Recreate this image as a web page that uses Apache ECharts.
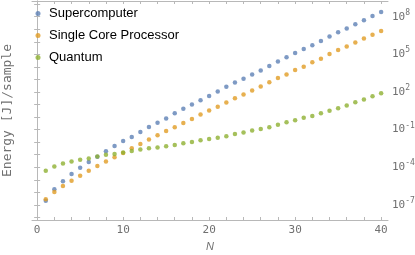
<!DOCTYPE html>
<html>
<head>
<meta charset="utf-8">
<script src="https://cdn.jsdelivr.net/npm/echarts@6/dist/echarts.min.js"></script>
<style>html,body{margin:0;padding:0;background:#fff}#c{width:415px;height:255px}</style>
</head>
<body>
<div id="c"></div>
<script>
const N = [];
for (let i = 1; i <= 40; i++) N.push(i);
const supercomputer = [2.14e-7,1.74e-6,7.6e-6,2.9e-5,9.1e-5,2.6e-4,6.8e-4,1.9e-3,4.9e-3,1.23e-2,
  2.6e-2,6.6e-2,0.166,0.355,0.776,2.04,4.57,10,21.9,47.9,
  107,257,575,1120,2510,5250,12000,26900,58900,1.29e5,
  2.63e5,5.37e5,1.17e6,2.63e6,5.75e6,1.12e7,2.51e7,5.25e7,1.15e8,2.34e8];
const singleCore = [2.8e-7,1.07e-6,3.2e-6,8.5e-6,2.1e-5,5.2e-5,1.29e-4,2.9e-4,6.3e-4,1.38e-3,
  3.3e-3,7.2e-3,1.62e-2,3.5e-2,7.8e-2,0.158,0.331,0.692,1.62,3.39,
  6.61,14.5,31.6,63.1,129,269,589,1320,2510,5620,
  10200,22900,44700,1.05e5,2.19e5,4.17e5,8.7e5,1.82e6,3.72e6,7.4e6];
const quantum = [5.2e-5,1.17e-4,2.0e-4,2.9e-4,3.9e-4,5.0e-4,7.2e-4,9.8e-4,1.17e-3,1.51e-3,
  2.0e-3,2.57e-3,3.3e-3,3.7e-3,4.7e-3,6.0e-3,8.1e-3,1.05e-2,1.41e-2,1.78e-2,
  2.29e-2,2.95e-2,4.5e-2,5.8e-2,8.7e-2,0.112,0.158,0.245,0.380,0.550,
  0.891,1.20,2.04,3.16,5.13,8.32,15.5,25.1,45.7,79.4];
const seriesNames = ['Supercomputer','Single Core Processor','Quantum'];
const xTickLabels = [0,10,20,30,40];
const xTicks = [0,2,4,6,8,10,12,14,16,18,20,22,24,26,28,30,32,34,36,38,40];
const yTickLabels = [1e-7,1e-4,1e-1,1e2,1e5,1e8];
const yTicks = [1e-8,1e-7,1e-6,1e-5,1e-4,1e-3,1e-2,1e-1,1,1e1,1e2,1e3,1e4,1e5,1e6,1e7,1e8,1e9];

const colors = ['#5E81B5','#E19C24','#8FB032'];
const axisColor = '#b8b8b8';
const labelColor = '#707070';
const mono = 'DejaVu Sans Mono';
const yMin = Math.pow(10,-8.2), yMax = Math.pow(10,9.25);

function pairs(arr){ return arr.map((v,i)=>[N[i], v]); }

const baseX = {
  type:'value', min:-0.6, max:40.8,
  axisLine:{show:true, lineStyle:{color:axisColor, width:1}},
  splitLine:{show:false},
};
const baseY = {
  type:'log', logBase:10, min:yMin, max:yMax,
  axisLine:{show:true, lineStyle:{color:axisColor, width:1}},
  splitLine:{show:false}, minorTick:{show:false}
};
const chart = echarts.init(document.getElementById('c'), null, {renderer:'canvas'});
chart.setOption({
  animation:false,
  backgroundColor:'#fff',
  color: colors,
  grid:{left:32, right:27, top:1, bottom:35, containLabel:false, outerBoundsMode:'none'},
  legend:{
    orient:'vertical', left:35.5, top:7, padding:0, itemGap:9,
    itemWidth:12, itemHeight:5, icon:'circle',
    textStyle:{fontFamily:'Liberation Sans', fontSize:13, color:'#000'},
    data: seriesNames
  },
  xAxis:[
    Object.assign({}, baseX, {
      position:'bottom',
      axisTick:{show:true, inside:true, length:3, customValues:xTicks, lineStyle:{color:axisColor}},
      axisLabel:{show:true, customValues:xTickLabels, color:labelColor, fontFamily:mono, fontSize:11, margin:5},
      name:'N', nameLocation:'middle', nameGap:21,
      nameTextStyle:{fontFamily:'Liberation Sans', fontStyle:'italic', fontSize:11, color:labelColor}
    }),
    Object.assign({}, baseX, {
      position:'top',
      axisTick:{show:true, inside:true, length:3, customValues:xTicks, lineStyle:{color:axisColor}},
      axisLabel:{show:false}
    })
  ],
  yAxis:[
    Object.assign({}, baseY, {
      position:'right',
      axisTick:{show:true, inside:true, length:3, customValues:yTicks, lineStyle:{color:axisColor}},
      axisLabel:{show:true, customValues:yTickLabels, margin:4,
        formatter:function(v){ const e = Math.round(Math.log10(v)); return '{b|10}{s|' + e + '}'; },
        rich:{
          b:{fontFamily:mono, fontSize:11, color:labelColor},
          s:{fontFamily:mono, fontSize:8, color:labelColor, verticalAlign:'top', padding:[0,0,8,0]}
        }
      }
    }),
    Object.assign({}, baseY, {
      position:'left',
      axisTick:{show:true, inside:true, length:3, customValues:yTicks, lineStyle:{color:axisColor}},
      axisLabel:{show:false},
      name:'Energy [J]/sample', nameLocation:'middle', nameGap:17.5,
      nameTextStyle:{fontFamily:mono, fontSize:13, color:labelColor}
    })
  ],
  series:[
    {name:seriesNames[0], type:'scatter', xAxisIndex:0, yAxisIndex:0, symbolSize:4.5, data:pairs(supercomputer)},
    {name:seriesNames[1], type:'scatter', xAxisIndex:0, yAxisIndex:0, symbolSize:4.5, data:pairs(singleCore)},
    {name:seriesNames[2], type:'scatter', xAxisIndex:0, yAxisIndex:0, symbolSize:4.5, data:pairs(quantum)}
  ]
});
</script>
</body>
</html>
